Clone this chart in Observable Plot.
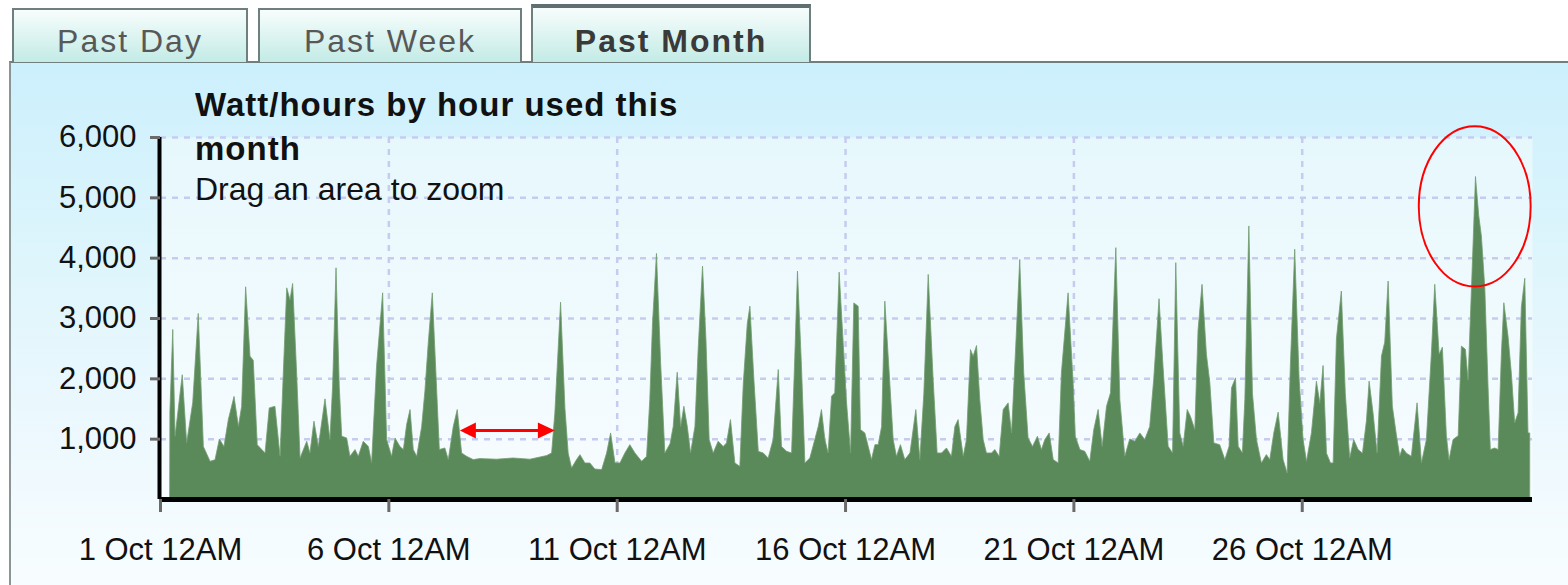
<!DOCTYPE html>
<html><head><meta charset="utf-8">
<script src="https://cdn.jsdelivr.net/npm/d3@7"></script>
<script src="https://cdn.jsdelivr.net/npm/@observablehq/plot@0.6"></script>
<style>
html,body{margin:0;padding:0;background:#fff;width:1568px;height:585px;overflow:hidden;font-family:"Liberation Sans",Arial,sans-serif;}
#wrap{position:relative;width:1568px;height:585px;overflow:hidden;}
.tab{position:absolute;box-sizing:border-box;border:2px solid #6f7f7f;border-bottom:none;background:linear-gradient(#f7fdfc,#c3ebe6);color:#585858;font-size:32px;line-height:40px;text-align:center;letter-spacing:2px;padding-top:11px;}
.tab.sel{border-top:4px solid #5f6f6f;font-weight:bold;color:#3a3a3a;padding-top:13px;}
#panel{position:absolute;left:9px;top:61px;width:1600px;height:560px;box-sizing:border-box;border-top:2px solid #6f7f7f;border-left:2px solid #8a9696;background:linear-gradient(#ccf0fc 0%,#def5fc 35%,#eef9fe 70%,#fafeff 100%);}
#chart{position:absolute;left:0;top:0;}
.title{position:absolute;left:195px;top:83px;font-size:33px;font-weight:bold;line-height:44px;letter-spacing:1px;color:#111;white-space:nowrap;}
.sub{position:absolute;left:195px;top:169px;font-size:32px;line-height:40px;color:#111;white-space:nowrap;}
</style></head>
<body>
<div id="wrap">
  <div id="panel"></div>
  <div class="tab" style="left:12px;top:8px;width:236px;height:54px;">Past Day</div>
  <div class="tab" style="left:258px;top:8px;width:264px;height:54px;">Past Week</div>
  <div class="tab sel" style="left:531px;top:4px;width:280px;height:58px;">Past Month</div>
  <div id="chart"></div>
  <div class="title">Watt/hours by hour used this<br>month</div>
  <div class="sub">Drag an area to zoom</div>
</div>
<script>
// hours since 1 Oct 12AM
const hours = [
5.2,6.7,7.9,11.7,14.0,17.2,20.1,22.8,26.3,28.9,31.2,33.6,35.9,38.9,41.2,42.9,45.0,47.3,49.0,51.1,
55.2,57.4,60.4,63.1,64.8,66.6,68.3,69.7,71.8,73.6,77.1,78.8,80.9,83.2,86.7,89.3,90.7,92.5,94.2,95.5,
98.1,99.8,102.5,104.2,106.8,109.5,111.2,113.8,117.0,119.1,121.7,123.5,126.1,127.9,129.6,131.4,133.1,134.9,137.5,139.2,
141.0,143.1,145.4,146.8,149.7,151.5,154.1,156.2,158.5,161.1,164.6,168.1,176.9,185.6,194.4,203.2,205.8,207.5,210.5,212.8,
214.5,216.3,218.9,220.7,223.3,225.9,228.5,232.1,234.7,236.8,239.1,241.7,244.3,246.9,249.6,253.1,255.7,257.4,258.8,260.9,
263.1,265.3,268.0,269.7,271.8,273.6,275.3,277.1,278.8,281.1,282.8,285.1,286.9,288.6,290.7,293.3,296.0,297.7,299.8,302.1,
304.7,306.5,308.6,310.0,312.1,314.4,317.0,319.6,322.2,324.9,326.6,329.3,331.9,333.6,335.0,337.1,338.9,341.5,344.1,345.9,
347.6,349.4,351.1,352.9,354.6,356.9,359.0,360.8,362.9,364.6,366.9,368.1,370.4,372.2,373.9,375.7,377.4,379.2,380.9,383.2,
385.3,387.0,389.1,391.4,394.1,397.2,399.3,401.4,403.7,406.3,408.4,410.7,413.3,415.9,417.7,419.4,422.1,423.8,425.9,427.3,
429.1,430.8,432.6,434.3,437.0,438.7,441.0,443.1,445.7,447.5,449.7,451.8,453.9,456.2,458.5,461.1,463.2,465.0,467.3,469.4,
472.0,473.7,477.2,479.9,481.0,483.4,486.0,488.6,490.7,493.0,495.1,497.4,499.5,500.9,502.3,504.4,507.0,509.6,512.3,514.9,
517.5,520.1,522.2,525.0,527.1,529.8,532.1,533.8,535.9,537.7,539.8,541.5,543.8,545.5,547.6,549.9,551.7,553.8,556.9,559.6,
561.8,563.1,565.2,566.6,568.8,570.1,572.2,574.1,576.2,578.8,581.4,583.2,585.3,587.6,590.2,592.3,594.0,596.3,598.6,600.7,
602.5,605.1,607.7,609.5,611.2,613.0,615.1,616.5,618.2,620.8,622.9,625.2,627.3,629.6,631.9,634.0,635.4,637.5,639.6,641.9,
643.6,645.4,647.6,649.7,651.5,652.9,655.0,657.6,660.6,662.9,665.5,668.1,669.9,672.2,673.9,676.0,677.4,679.5,682.2,683.9,
686.0,687.4,689.2,691.3,693.0,694.4,696.2,697.9,699.1,701.4,703.2,704.9,706.2,708.4,710.2,711.9,713.7,715.4,717.2,718.9,
719.8
];
const watts = [
1450,2810,1040,2060,930,1600,3075,870,625,650,995,870,1316,1700,1205,1537,3517,2367,2300,900,
763,1510,1537,708,2090,3500,3300,3572,2090,680,957,763,1290,870,1660,985,1870,3832,1870,1040,
1012,708,820,708,957,870,600,2200,3417,985,708,1012,870,820,1233,1482,820,708,1200,1786,
2600,3417,1800,820,846,653,1200,1482,763,708,653,670,660,680,660,720,763,1427,3262,1500,
763,514,653,735,597,597,497,487,763,1095,600,597,763,901,763,625,708,1650,2900,4070,
2250,763,915,1200,2100,1200,1537,1200,763,1200,2480,3860,2650,985,763,957,870,930,1316,597,
542,1900,2900,3196,1980,790,763,680,985,2145,870,790,763,2367,3777,2200,597,680,985,1200,
1482,985,763,1703,1760,3760,2600,1593,763,3250,3196,1150,1095,870,653,901,901,1200,3279,2090,
985,708,901,653,763,1482,653,1750,3722,1980,763,763,846,708,1200,1316,708,985,2477,2367,
2544,1650,985,763,763,820,708,1482,1593,1095,2540,3970,2090,1012,870,1040,820,985,1095,653,
597,2090,3417,1900,1040,820,790,625,1150,1483,870,1538,1760,3000,4166,1650,708,996,957,1095,
985,1200,1981,3320,2200,874,763,3917,1095,874,1483,1370,1150,2800,3558,2400,1925,930,900,653,
874,1842,2008,874,763,1650,4526,1750,985,597,736,653,1095,1439,653,431,2200,4139,2000,985,
625,1100,1953,1590,2213,760,598,598,2650,3447,1750,680,985,820,760,1300,1953,1420,760,2370,
2600,3613,1540,1070,708,846,760,708,1594,598,985,2400,3558,2400,2517,1050,650,985,1050,2534,
2480,1970,3500,5345,4700,4360,3500,1870,819,846,819,2400,3253,2700,2064,1262,1430,3180,3657,1095,
1095
];
const yTicks = [1000, 2000, 3000, 4000, 5000, 6000];
const xTickHours = [0, 120, 240, 360, 480, 600];
const xTickLabels = ["1 Oct 12AM", "6 Oct 12AM", "11 Oct 12AM", "16 Oct 12AM", "21 Oct 12AM", "26 Oct 12AM"];
// annotations (hours, watts)
const arrowHours = [157.6, 207.5];
const arrowWatts = 1134;
const ellipseCenter = [690.9, 4851];
const ellipseRadius = [29.4, 1328];

const data = hours.map((h, i) => ({h, w: watts[i]}));
const gridStyle = {stroke: "#c6ccf0", strokeOpacity: 1, strokeWidth: 2.5, strokeDasharray: "6,6"};

const plot = Plot.plot({
  width: 1568, height: 585,
  marginLeft: 160, marginRight: 36, marginTop: 137, marginBottom: 86,
  style: {background: "transparent", fontFamily: "'Liberation Sans', Arial, sans-serif", fontSize: "31px", color: "#111", overflow: "visible"},
  x: {domain: [0, 721]},
  y: {domain: [0, 6000]},
  marks: [
    Plot.frame({fill: "#ffffff", fillOpacity: 0.45, stroke: "none"}),
    Plot.gridY(yTicks, gridStyle),
    Plot.gridX(xTickHours.slice(1), gridStyle),
    Plot.areaY(data, {x: "h", y: "w", fill: "#5b8a5a", stroke: "#739d72", strokeWidth: 0.8, curve: "linear"}),
    Plot.ruleX([0], {stroke: "#000", strokeWidth: 4, y1: 0, y2: 6000, dx: -1}),
    Plot.ruleY([0], {stroke: "#000", strokeWidth: 5, x1: 0, x2: 721}),
    Plot.axisY(yTicks, {tickSize: 10, tickPadding: 14, tickFormat: d3.format(","), stroke: "#6a6a6a", strokeWidth: 3, fill: "#111", fontSize: 31, label: null}),
    Plot.axisX(xTickHours, {tickSize: 13, tickPadding: 25, tickFormat: d => xTickLabels[xTickHours.indexOf(d)], stroke: "#6a6a6a", strokeWidth: 3, fill: "#111", fontSize: 31, label: null})
  ]
});
document.getElementById("chart").appendChild(plot);

// red annotations positioned through the plot's scales
const sx = plot.scale("x"), sy = plot.scale("y");
const svg = d3.select(plot);
const ay = sy.apply(arrowWatts);
const ax1 = sx.apply(arrowHours[0]), ax2 = sx.apply(arrowHours[1]);
const g = svg.append("g");
g.append("line").attr("x1", ax1 + 10).attr("x2", ax2 - 10).attr("y1", ay).attr("y2", ay)
  .attr("stroke", "#ff0000").attr("stroke-width", 3);
g.append("path").attr("fill", "#ff0000")
  .attr("d", `M${ax1},${ay}L${ax1 + 16},${ay - 8}L${ax1 + 16},${ay + 8}Z`);
g.append("path").attr("fill", "#ff0000")
  .attr("d", `M${ax2},${ay}L${ax2 - 17},${ay - 8}L${ax2 - 17},${ay + 8}Z`);
const cx = sx.apply(ellipseCenter[0]), cy = sy.apply(ellipseCenter[1]);
g.append("ellipse").attr("cx", cx).attr("cy", cy)
  .attr("rx", sx.apply(ellipseCenter[0] + ellipseRadius[0]) - cx)
  .attr("ry", cy - sy.apply(ellipseCenter[1] + ellipseRadius[1]))
  .attr("fill", "none").attr("stroke", "#ff0000").attr("stroke-width", 2);
</script>
</body></html>
